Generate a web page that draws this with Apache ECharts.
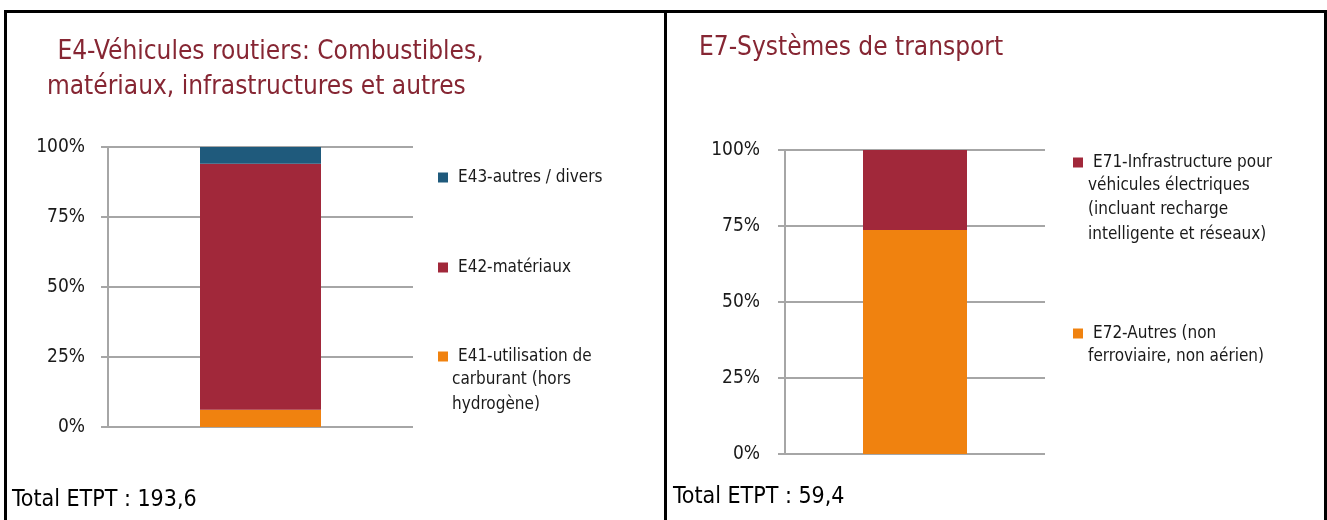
<!DOCTYPE html>
<html>
<head>
<meta charset="utf-8">
<script src="https://cdn.jsdelivr.net/npm/echarts@6/dist/echarts.min.js"></script>
<style>
html,body{margin:0;padding:0;background:#fff;}
#c{width:1327px;height:520px;}
</style>
</head>
<body>
<div id="c"></div>
<script>
// ---- data ----
const leftCategories = ['E4'];
const leftSeriesNames = ['E41', 'E42', 'E43'];
const leftLegendLines = [
  ['E41-utilisation de', 'carburant (hors', 'hydrogène)'],
  ['E42-matériaux'],
  ['E43-autres / divers']
];
const leftValues = [6.2, 87.8, 6.0];
const leftColors = ['#F0820F', '#A1283A', '#1F5A7C'];
const leftTitleLines = [' E4-Véhicules routiers: Combustibles,', 'matériaux, infrastructures et autres'];
const leftTotal = 'Total ETPT : 193,6';

const rightCategories = ['E7'];
const rightSeriesNames = ['E72', 'E71'];
const rightLegendLines = [
  ['E72-Autres (non', 'ferroviaire, non aérien)'],
  ['E71-Infrastructure pour', 'véhicules électriques', '(incluant recharge', 'intelligente et réseaux)']
];
const rightValues = [73.7, 26.3];
const rightColors = ['#F0820F', '#A1283A'];
const rightTitle = 'E7-Systèmes de transport';
const rightTotal = 'Total ETPT : 59,4';

const yTicks = [0, 25, 50, 75, 100];

// ---- styles ----
const FONT = '"Liberation Sans Narrow", "Arial Narrow", "DejaVu Sans Condensed", sans-serif';
const TITLE_COLOR = '#862633';
const GRID_COLOR = '#A6A6A6';

const chart = echarts.init(document.getElementById('c'), null, {renderer: 'canvas'});

function yAxisCfg(gridIndex, margin) {
  return {
    type: 'value', gridIndex, min: yTicks[0], max: yTicks[yTicks.length - 1],
    interval: yTicks[1] - yTicks[0],
    axisLine: {show: true, lineStyle: {color: GRID_COLOR, width: 2}},
    axisTick: {show: true, length: 7, lineStyle: {color: GRID_COLOR, width: 2}},
    splitLine: {show: true, lineStyle: {color: GRID_COLOR, width: 2}},
    axisLabel: {formatter: '{value}%', fontFamily: FONT, fontSize: 19, color: '#1a1a1a', margin}
  };
}
function xAxisCfg(gridIndex, cats) {
  return {
    type: 'category', gridIndex, data: cats,
    axisLine: {show: false}, axisTick: {show: false}, axisLabel: {show: false}, splitLine: {show: false}
  };
}

const series = [];
leftSeriesNames.forEach((n, i) => series.push({
  name: n, type: 'bar', stack: 'L', xAxisIndex: 0, yAxisIndex: 0, barWidth: 121,
  itemStyle: {color: leftColors[i]}, data: [leftValues[i]], z: 3
}));
rightSeriesNames.forEach((n, i) => series.push({
  name: n, type: 'bar', stack: 'R', xAxisIndex: 1, yAxisIndex: 1, barWidth: 104,
  itemStyle: {color: rightColors[i]}, data: [rightValues[i]], z: 3
}));

function legendFor(name, firstLine, left, top) {
  return {
    data: [name], left, top, orient: 'vertical', padding: 0,
    itemWidth: 10, itemHeight: 10, itemGap: 0, icon: 'rect',
    formatter: () => firstLine,
    textStyle: {fontFamily: FONT, fontSize: 17, color: '#1a1a1a', padding: [0, 0, 0, 5]},
    selectedMode: false
  };
}

const legends = [
  legendFor('E43', leftLegendLines[2][0], 438, 169),
  legendFor('E42', leftLegendLines[1][0], 438, 259),
  legendFor('E41', leftLegendLines[0][0], 438, 348),
  legendFor('E71', rightLegendLines[1][0], 1073, 154),
  legendFor('E72', rightLegendLines[0][0], 1073, 325)
];

const graphics = [];
// borders
const B = {stroke: '#000', lineWidth: 3};
graphics.push({type: 'line', shape: {x1: 4, y1: 11.5, x2: 1327, y2: 11.5}, style: B});
graphics.push({type: 'line', shape: {x1: 5.5, y1: 10, x2: 5.5, y2: 520}, style: B});
graphics.push({type: 'line', shape: {x1: 665.5, y1: 10, x2: 665.5, y2: 520}, style: B});
graphics.push({type: 'line', shape: {x1: 1325.5, y1: 10, x2: 1325.5, y2: 520}, style: B});
// titles
function txt(text, x, y, size, color, align) {
  return {type: 'text', x, y, style: {text, font: size + 'px ' + FONT, fill: color, textAlign: align || 'left', textVerticalAlign: 'middle'}};
}
graphics.push(txt(leftTitleLines[0], 50, 52, 26, TITLE_COLOR));
graphics.push(txt(leftTitleLines[1], 47, 87, 26, TITLE_COLOR));
graphics.push(txt(rightTitle, 699, 48, 26, TITLE_COLOR));
// totals
graphics.push(txt(leftTotal, 12, 500, 23, '#000'));
graphics.push(txt(rightTotal, 673, 497, 23, '#000'));
// legend continuation lines
leftLegendLines[0].slice(1).forEach((l, i) => graphics.push(txt(l, 452, 380 + i * 24.5, 17, '#1a1a1a')));
rightLegendLines[1].slice(1).forEach((l, i) => graphics.push(txt(l, 1088, 185.5 + i * 24.5, 17, '#1a1a1a')));
rightLegendLines[0].slice(1).forEach((l, i) => graphics.push(txt(l, 1088, 356.5 + i * 24.5, 17, '#1a1a1a')));

chart.setOption({
  animation: false,
  backgroundColor: '#fff',
  grid: [
    {left: 108, right: 1327 - 413, top: 147, bottom: 520 - 427},
    {left: 785, right: 1327 - 1045, top: 150, bottom: 520 - 454}
  ],
  xAxis: [xAxisCfg(0, leftCategories), xAxisCfg(1, rightCategories)],
  yAxis: [yAxisCfg(0, 23), yAxisCfg(1, 25)],
  legend: legends,
  series,
  graphic: graphics
});
</script>
</body>
</html>
